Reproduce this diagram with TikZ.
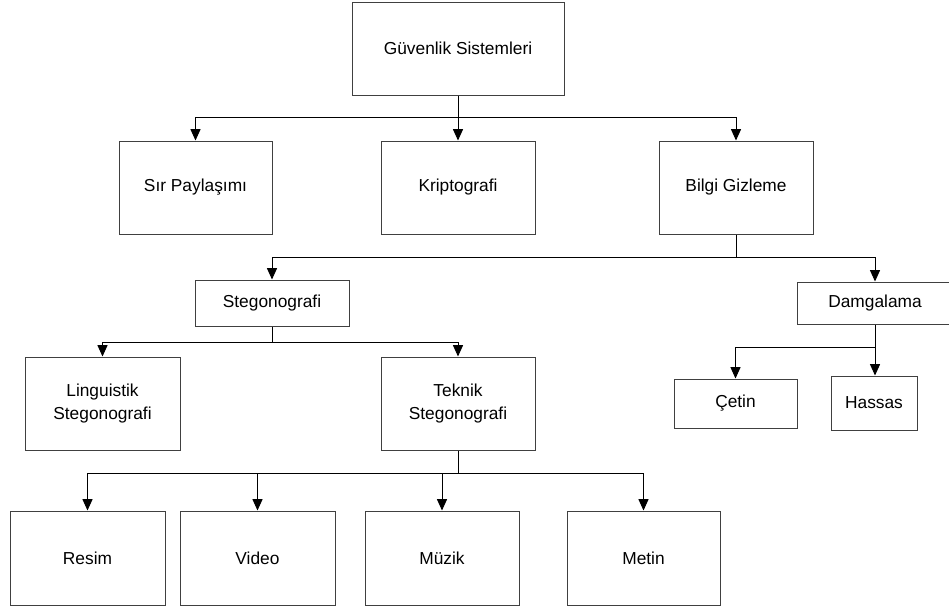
\documentclass[tikz,border=0pt]{standalone}
\usepackage{fontspec}
\setmainfont{Liberation Sans}
\usetikzlibrary{arrows.meta}
\begin{document}
\begin{tikzpicture}[x=0.75pt,y=-0.75pt,
  box/.style={draw=black!75,line width=0.75pt,rectangle,inner sep=0pt,
    align=center,font=\fontsize{13}{17.25}\selectfont,text=black},
  wpx/.style={minimum width=#1*0.75pt},
  hpx/.style={minimum height=#1*0.75pt},
  conn/.style={draw=black,line width=0.75pt},
  arr/.style={conn,-{Triangle[length=8.5pt,width=7.5pt]}}]
\useasboundingbox (0,0) rectangle (949,608);
% nodes
\node[box,wpx=212,hpx=93] (gs) at (458,48.5) {Güvenlik Sistemleri};
\node[box,wpx=153,hpx=93] (sir) at (195.5,187.5) {Sır Paylaşımı};
\node[box,wpx=154,hpx=93] (kri) at (458,187.5) {Kriptografi};
\node[box,wpx=154,hpx=93] (bil) at (736,187.5) {Bilgi Gizleme};
\node[box,wpx=154,hpx=46] (steg) at (272,303) {Stegonografi};
\node[box,wpx=166,hpx=42] (dam) at (880,303) {\hspace*{-10\pgflinewidth}Damgalama};
\node[box,wpx=155,hpx=93] (ling) at (102.5,403.5) {Linguistik\\Stegonografi};
\node[box,wpx=154,hpx=93] (tek) at (458,403.5) {Teknik\\Stegonografi};
\node[box,wpx=123,hpx=49] (cet) at (735.5,403.5) {Çetin};
\node[box,wpx=86,hpx=54] (has) at (874,403) {Hassas};
\node[box,wpx=155,hpx=94] (res) at (87.5,558) {Resim};
\node[box,wpx=155,hpx=94] (vid) at (257.5,558) {Video};
\node[box,wpx=154,hpx=94] (muz) at (442,558) {Müzik};
\node[box,wpx=153,hpx=94] (met) at (643.5,558) {Metin};
% junctions
\coordinate (j1) at (458,117);
\coordinate (j2) at (736,257);
\coordinate (j3) at (272,342);
\coordinate (j4) at (875,347);
\coordinate (j5) at (458,473);
% connectors
\draw[conn] (gs.south) -- (j1);
\draw[arr] (j1) -| (sir.north);
\draw[arr] (j1) -- (kri.north);
\draw[arr] (j1) -| (bil.north);
\draw[conn] (bil.south) -- (j2);
\draw[arr] (j2) -| (steg.north);
\draw[arr] (j2) -| (dam.north -| j4);
\draw[conn] (dam.south -| j4) -- (j4);
\draw[arr] (j4) -| (cet.north);
\draw[arr] (j4) -- (j4 |- has.north);
\draw[conn] (steg.south) -- (j3);
\draw[arr] (j3) -| (ling.north);
\draw[arr] (j3) -| (tek.north);
\draw[conn] (tek.south) -- (j5);
\draw[arr] (j5) -| (res.north);
\draw[arr] (j5) -| (vid.north);
\draw[arr] (j5) -| (muz.north);
\draw[arr] (j5) -| (met.north);
\end{tikzpicture}
\end{document}
